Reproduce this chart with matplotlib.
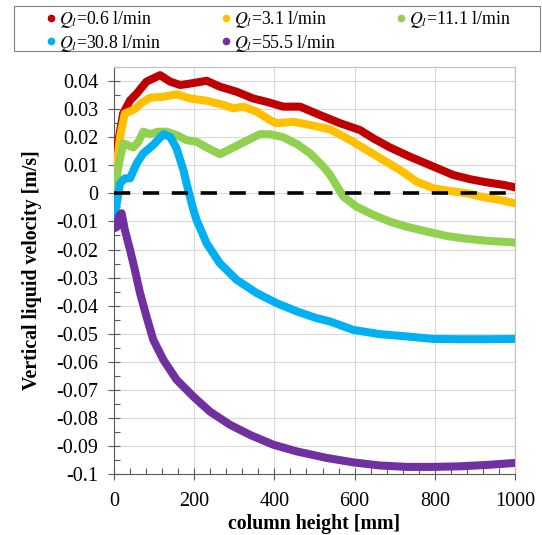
import numpy as np
import matplotlib
matplotlib.use("Agg")
from matplotlib import pyplot as plt
from matplotlib.ticker import MultipleLocator, FuncFormatter
from matplotlib.lines import Line2D
from matplotlib.patches import Rectangle

plt.rcParams['font.family'] = ['Liberation Serif', 'DejaVu Serif']
plt.rcParams['mathtext.fontset'] = 'stix'
plt.rcParams['axes.unicode_minus'] = False

labels = [r'$Q_l$=0.6 l/min', r'$Q_l$=3.1 l/min', r'$Q_l$=11.1 l/min',
          r'$Q_l$=30.8 l/min', r'$Q_l$=55.5 l/min']
colors = ['#C00000', '#FFC000', '#92D050', '#00B0F0', '#7030A0']

# column height [mm] / velocity [m/s]
x_red = [0, 10, 23, 40, 57, 81, 115, 140, 165, 190, 231, 264, 306, 347, 381, 422, 464,
         514, 564, 613, 647, 688, 738, 796, 846, 888, 929, 971, 1000]
v_red = [0.0023, 0.018, 0.0284, 0.033, 0.0355, 0.0397, 0.042, 0.0397, 0.0385, 0.039, 0.040,
         0.0379, 0.0361, 0.0337, 0.0325, 0.0308, 0.0308, 0.0278, 0.0249, 0.0225, 0.0195,
         0.0163, 0.0130, 0.0095, 0.0065, 0.005, 0.0039, 0.003, 0.0021]

x_orange = [0, 15, 27, 48, 73, 90, 123, 156, 190, 231, 273, 298, 322, 356, 389, 406, 447,
            489, 539, 589, 630, 672, 713, 755, 796, 838, 880, 921, 963, 1000]
v_orange = [0.001, 0.020, 0.0284, 0.0296, 0.0325, 0.034, 0.0343, 0.0352, 0.0337, 0.0329,
            0.0314, 0.0302, 0.0308, 0.029, 0.026, 0.0249, 0.0254, 0.0243, 0.0227, 0.0189,
            0.0154, 0.0118, 0.0083, 0.0041, 0.0018, 0.0008, 0.0, -0.0014, -0.0024, -0.0036]

x_green = [0, 11, 23, 36, 48, 61, 73, 90, 110, 131, 156, 181, 206, 231, 264, 298, 331, 364,
           389, 422, 456, 489, 522, 539, 572, 605, 647, 688, 730, 780, 830, 880, 929, 1000]
v_green = [-0.001, 0.0095, 0.0178, 0.017, 0.0163, 0.0183, 0.0219, 0.021, 0.0219, 0.0219,
           0.0207, 0.0189, 0.0183, 0.0163, 0.0139, 0.0163, 0.0187, 0.021, 0.021, 0.0199,
           0.0175, 0.0142, 0.0095, 0.0065, -0.0012, -0.0048, -0.0077, -0.0101, -0.0119,
           -0.0136, -0.0152, -0.0162, -0.0169, -0.0175]

x_blue = [0, 7, 15, 27, 40, 57, 73, 98, 123, 140, 156, 173, 185, 198, 206, 231, 264, 306,
          356, 406, 456, 505, 539, 597, 663, 730, 796, 863, 930, 1000]
v_blue = [-0.009, -0.0036, 0.0035, 0.0053, 0.0053, 0.0107, 0.0142, 0.0172, 0.021, 0.0201,
          0.016, 0.0083, 0.0012, -0.0059, -0.0095, -0.0178, -0.0249, -0.0308, -0.0355,
          -0.0391, -0.042, -0.0444, -0.0456, -0.0486, -0.0501, -0.0509, -0.0518, -0.0519,
          -0.0519, -0.0518]

x_purple = [0, 7, 13, 19, 27, 40, 52, 65, 81, 98, 123, 156, 198, 239, 289, 339, 397, 456,
            530, 597, 663, 730, 796, 863, 930, 1000]
v_purple = [-0.0125, -0.012, -0.008, -0.0071, -0.013, -0.0201, -0.0272, -0.0355, -0.0438,
            -0.0521, -0.0592, -0.0663, -0.0723, -0.0776, -0.0823, -0.0859, -0.0894, -0.0918,
            -0.0941, -0.0957, -0.0968, -0.0973, -0.0973, -0.0971, -0.0966, -0.0959]

series = [(x_red, v_red), (x_orange, v_orange), (x_green, v_green),
          (x_blue, v_blue), (x_purple, v_purple)]

fig = plt.figure(figsize=(5.42, 5.35), dpi=100)
ax = fig.add_axes([0.2103, 0.1131, 0.7399, 0.7622])

for (xs, vs), c in zip(series, colors):
    ax.plot(xs, vs, color=c, lw=5.8, solid_capstyle='round', solid_joinstyle='round', zorder=3)

ax.plot([0, 1000], [0, 0], color='black', lw=2.6, dashes=(4.5, 3.5), zorder=4)

ax.set_xlim(0, 1000)
ax.set_ylim(-0.1, 0.045)
ax.xaxis.set_major_locator(MultipleLocator(200))
ax.xaxis.set_minor_locator(MultipleLocator(40))
ax.yaxis.set_minor_locator(MultipleLocator(0.005))
ax.set_yticks([round(-0.1 + 0.01 * i, 2) for i in range(15)])
ax.yaxis.set_major_formatter(FuncFormatter(lambda v, p: '%g' % round(v, 3)))
ax.grid(True, which='major', color='#D9D9D9', lw=0.8)
ax.set_axisbelow(True)

ax.tick_params(which='major', direction='inout', length=9, width=0.8, color='#595959',
               labelsize=14.5)
ax.tick_params(axis='x', which='major', pad=8)
ax.tick_params(axis='y', which='major', pad=7)
ax.tick_params(which='minor', direction='in', length=4, width=0.8, color='#595959')
for s in ['left', 'bottom']:
    ax.spines[s].set_color('#595959')
for s in ['top', 'right']:
    ax.spines[s].set_color('#BFBFBF')

ax.set_xlabel('column height [mm]', fontsize=14.3, fontweight='bold', labelpad=2)
ax.set_ylabel('Vertical liquid velocity [m/s]', fontsize=14.3, fontweight='bold', labelpad=10)

# legend fills column by column, so reorder to get the row-wise layout
order = [0, 3, 1, 4, 2]
handles = [Line2D([], [], ls='none', marker='o', markersize=4.5, color=colors[i]) for i in order]
W, H = 542.0, 535.0
leg = fig.legend(handles, [labels[i] for i in order], loc='upper left',
                 bbox_to_anchor=(45.7 / W, 1 - 9 / H),
                 ncol=3, fontsize=12.8, frameon=False,
                 borderpad=0, handletextpad=0.15, handlelength=0.6, labelspacing=0.15,
                 columnspacing=3.37, borderaxespad=0)
fig.add_artist(Rectangle((14 / W, 1 - 51 / H), 526 / W, 45 / H, transform=fig.transFigure,
                         fill=False, edgecolor='#808080', lw=0.8))

fig.savefig('out.png', dpi=100)
